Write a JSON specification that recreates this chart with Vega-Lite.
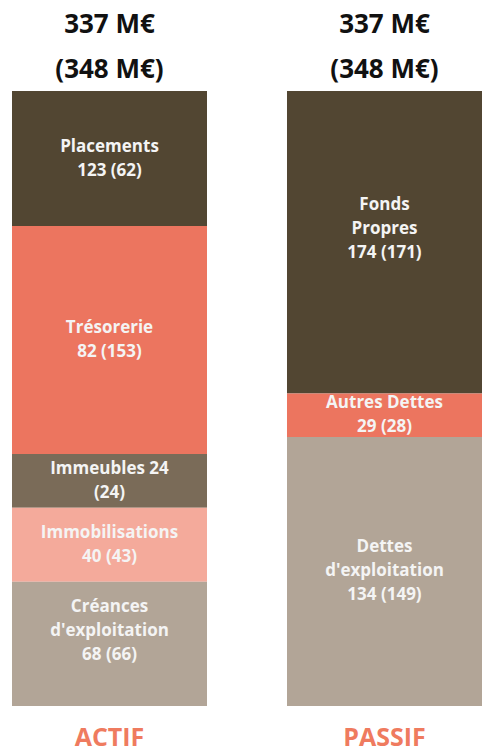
{
  "$schema": "https://vega.github.io/schema/vega-lite/v6.json",
  "autosize": {"type": "none"},
  "width": 470,
  "height": 615,
  "padding": {"left": 12, "right": 0, "top": 91, "bottom": 46},
  "background": "white",
  "config": {"view": {"stroke": null}, "font": "Open Sans"},
  "data": {
    "values": [
      {"side": "ACTIF", "category": "Placements", "share": 21.95, "order": 5, "label": "Placements\n123 (62)"},
      {"side": "ACTIF", "category": "Trésorerie", "share": 37.07, "order": 4, "label": "Trésorerie\n82 (153)"},
      {"side": "ACTIF", "category": "Immeubles", "share": 8.73, "order": 3, "label": "Immeubles 24\n(24)"},
      {"side": "ACTIF", "category": "Immobilisations", "share": 12.03, "order": 2, "label": "Immobilisations\n40 (43)"},
      {"side": "ACTIF", "category": "Créances d'exploitation", "share": 20.21, "order": 1, "label": "Créances\nd'exploitation\n68 (66)\n"},
      {"side": "PASSIF", "category": "Fonds Propres", "share": 49.18, "order": 3, "label": "Fonds\nPropres\n174 (171)\n"},
      {"side": "PASSIF", "category": "Autres Dettes", "share": 7.06, "order": 2, "label": "Autres Dettes\n29 (28)"},
      {"side": "PASSIF", "category": "Dettes d'exploitation", "share": 43.76, "order": 1, "label": "Dettes\nd'exploitation\n134 (149)"}
    ]
  },
  "transform": [
    {"stack": "share", "groupby": ["side"], "sort": [{"field": "order", "order": "ascending"}], "as": ["y0", "y1"]},
    {"calculate": "(datum.y0 + datum.y1) / 2", "as": "mid"}
  ],
  "layer": [
    {
      "mark": {"type": "bar"},
      "encoding": {
        "x": {
          "field": "side", "type": "nominal",
          "scale": {"paddingInner": 0.2909, "paddingOuter": 0},
          "axis": {
            "orient": "bottom", "title": null, "domain": false, "ticks": false, "tickSize": 0,
            "labelAngle": 0, "labelFont": "Open Sans", "labelFontWeight": "bold", "labelFontSize": 25,
            "labelColor": "#EF7B5F", "labelBaseline": "alphabetic", "labelPadding": 39
          }
        },
        "y": {"field": "y0", "type": "quantitative", "scale": {"domain": [0, 100], "nice": false}, "axis": null},
        "y2": {"field": "y1"},
        "color": {
          "field": "category", "type": "nominal", "legend": null,
          "scale": {
            "domain": ["Placements", "Trésorerie", "Immeubles", "Immobilisations", "Créances d'exploitation", "Fonds Propres", "Autres Dettes", "Dettes d'exploitation"],
            "range": ["#524632", "#EC755F", "#7A6B58", "#F4AA9B", "#B2A597", "#524632", "#EC755F", "#B2A597"]
          }
        }
      }
    },
    {
      "transform": [{"filter": "length(split(datum.label, '\\n')) == 2"}],
      "mark": {"type": "text", "lineBreak": "\n", "lineHeight": 24, "dy": -12, "font": "Open Sans", "fontWeight": "bold", "fontSize": 17, "color": "#F4F4F4", "baseline": "middle", "align": "center"},
      "encoding": {
        "x": {
          "field": "side", "type": "nominal",
          "axis": {
            "orient": "top", "title": null, "domain": false, "ticks": false, "tickSize": 0,
            "labelAngle": 0, "labelFont": "Open Sans", "labelFontWeight": "bold", "labelFontSize": 26,
            "labelColor": "#111111", "labelBaseline": "alphabetic", "labelPadding": 59, "labelLineHeight": 45,
            "labelExpr": "['337 M€', '(348 M€)']"
          }
        },
        "y": {"field": "mid", "type": "quantitative"},
        "text": {"field": "label", "type": "nominal"}
      }
    },
    {
      "transform": [{"filter": "length(split(datum.label, '\\n')) == 3"}],
      "mark": {"type": "text", "lineBreak": "\n", "lineHeight": 24, "dy": -24, "font": "Open Sans", "fontWeight": "bold", "fontSize": 17, "color": "#F4F4F4", "baseline": "middle", "align": "center"},
      "encoding": {
        "x": {"field": "side", "type": "nominal", "axis": null},
        "y": {"field": "mid", "type": "quantitative"},
        "text": {"field": "label", "type": "nominal"}
      }
    },
    {
      "transform": [{"filter": "length(split(datum.label, '\\n')) == 4"}],
      "mark": {"type": "text", "lineBreak": "\n", "lineHeight": 24, "dy": -37, "font": "Open Sans", "fontWeight": "bold", "fontSize": 17, "color": "#F4F4F4", "baseline": "middle", "align": "center"},
      "encoding": {
        "x": {"field": "side", "type": "nominal", "axis": null},
        "y": {"field": "mid", "type": "quantitative"},
        "text": {"field": "label", "type": "nominal"}
      }
    }
  ],
  "resolve": {"axis": {"x": "independent"}}
}
